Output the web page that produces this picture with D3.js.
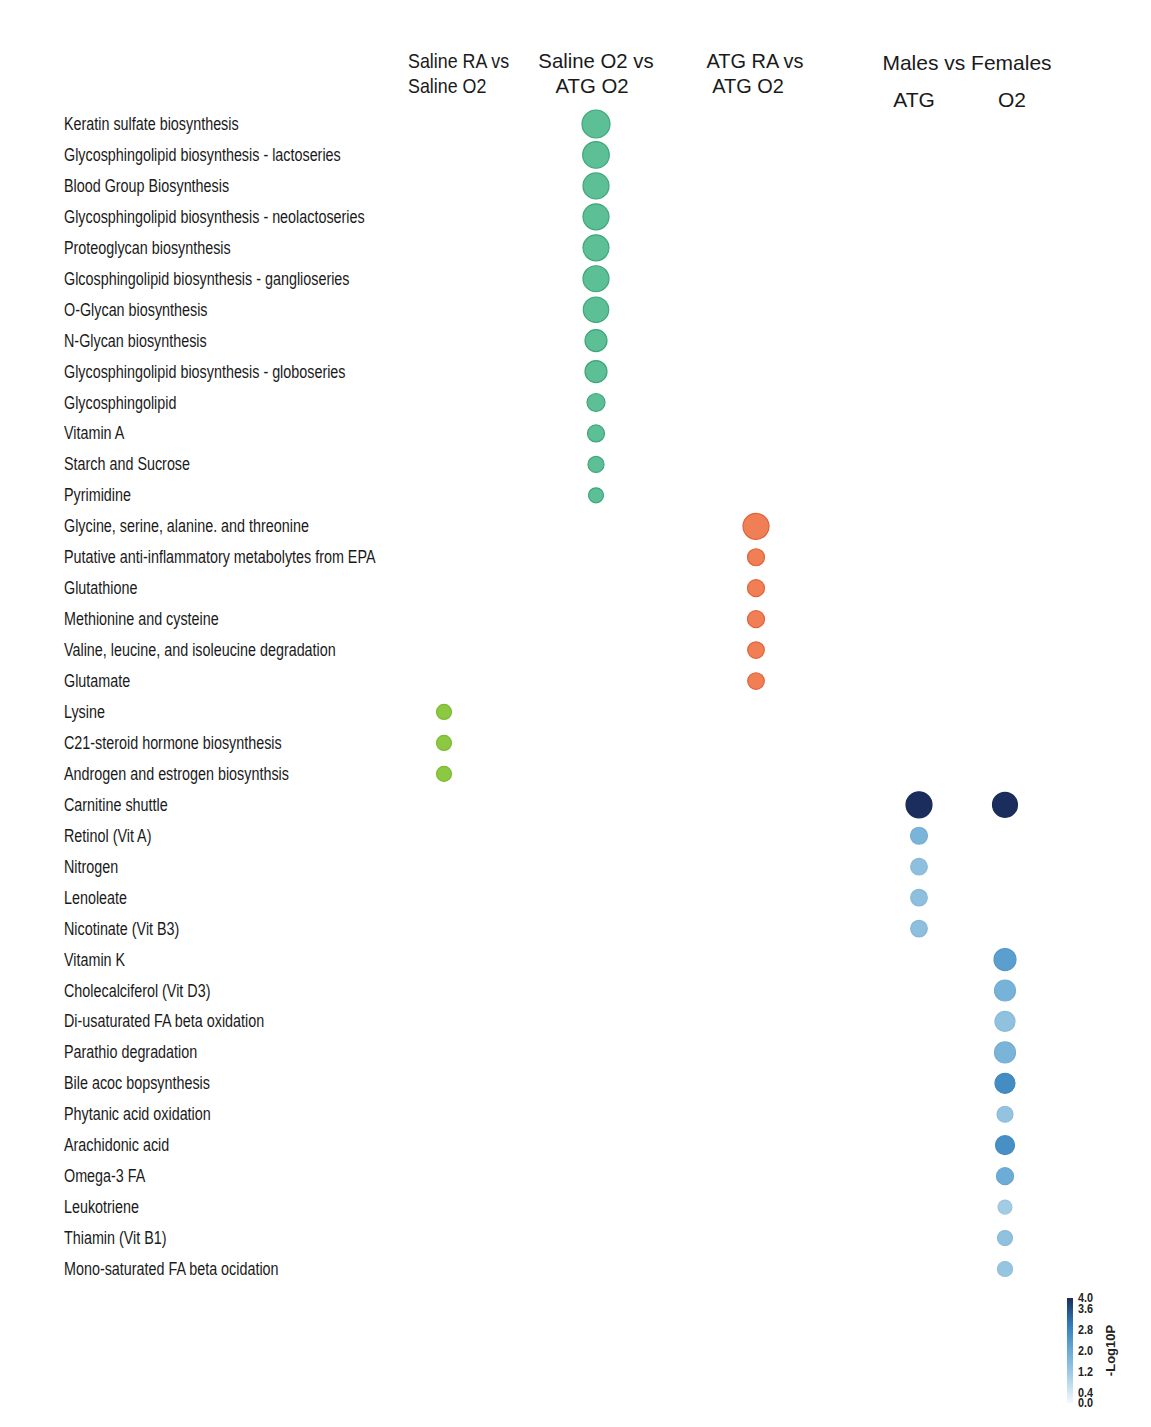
<!DOCTYPE html>
<html><head><meta charset="utf-8">
<script src="https://cdn.jsdelivr.net/npm/d3@7"></script>
<style>
html,body{margin:0;padding:0;background:#fff;}
</style></head>
<body><svg id="chart" width="1151" height="1427"></svg>
<script>
// ---------- DATA ----------
const pathways = [
  "Keratin sulfate biosynthesis",
  "Glycosphingolipid biosynthesis - lactoseries",
  "Blood Group Biosynthesis",
  "Glycosphingolipid biosynthesis - neolactoseries",
  "Proteoglycan biosynthesis",
  "Glcosphingolipid biosynthesis - ganglioseries",
  "O-Glycan biosynthesis",
  "N-Glycan biosynthesis",
  "Glycosphingolipid biosynthesis - globoseries",
  "Glycosphingolipid",
  "Vitamin A",
  "Starch and Sucrose",
  "Pyrimidine",
  "Glycine, serine, alanine. and threonine",
  "Putative anti-inflammatory metabolytes from EPA",
  "Glutathione",
  "Methionine and cysteine",
  "Valine, leucine, and isoleucine degradation",
  "Glutamate",
  "Lysine",
  "C21-steroid hormone biosynthesis",
  "Androgen and estrogen biosynthsis",
  "Carnitine shuttle",
  "Retinol (Vit A)",
  "Nitrogen",
  "Lenoleate",
  "Nicotinate (Vit B3)",
  "Vitamin K",
  "Cholecalciferol (Vit D3)",
  "Di-usaturated FA beta oxidation",
  "Parathio degradation",
  "Bile acoc bopsynthesis",
  "Phytanic acid oxidation",
  "Arachidonic acid",
  "Omega-3 FA",
  "Leukotriene",
  "Thiamin (Vit B1)",
  "Mono-saturated FA beta ocidation"
];

const columnKeys = ["salineRA_salineO2", "salineO2_atgO2", "atgRA_atgO2", "mf_ATG", "mf_O2"];
const headerLines = [
  ["Saline RA vs", "Saline O2"],
  ["Saline O2 vs", "ATG O2"],
  ["ATG RA vs", "ATG O2"]
];
const groupHeader = "Males vs Females";
const subHeaders = ["ATG", "O2"];

// Saline O2 vs ATG O2 (green-teal)
const salineO2AtgO2Paths = pathways.slice(0, 13);
const salineO2AtgO2Size  = [14, 13.3, 13, 13, 13, 13, 12.7, 11, 11, 9, 8.5, 8, 7.5];

// ATG RA vs ATG O2 (orange)
const atgRaAtgO2Paths = pathways.slice(13, 19);
const atgRaAtgO2Size  = [13, 8.5, 8.5, 8.5, 8.3, 8.3];

// Saline RA vs Saline O2 (lime)
const salineRaSalineO2Paths = pathways.slice(19, 22);
const salineRaSalineO2Size  = [7.5, 7.5, 7.5];

// Males vs Females, ATG (blue scale by -Log10P)
const mfAtgPaths  = ["Carnitine shuttle", "Retinol (Vit A)", "Nitrogen", "Lenoleate", "Nicotinate (Vit B3)"];
const mfAtgSize   = [13, 8.5, 8.3, 8.3, 8.3];
const mfAtgLogP   = [4.0, 1.75, 1.45, 1.45, 1.45];

// Males vs Females, O2
const mfO2Paths = ["Carnitine shuttle", "Vitamin K", "Cholecalciferol (Vit D3)", "Di-usaturated FA beta oxidation",
  "Parathio degradation", "Bile acoc bopsynthesis", "Phytanic acid oxidation", "Arachidonic acid",
  "Omega-3 FA", "Leukotriene", "Thiamin (Vit B1)", "Mono-saturated FA beta ocidation"];
const mfO2Size  = [12.5, 11, 10.5, 10, 10.5, 10, 8, 9.5, 8.5, 7, 7.5, 7.5];
const mfO2LogP  = [4.0, 2.25, 1.8, 1.4, 1.75, 2.65, 1.35, 2.6, 1.95, 1.1, 1.4, 1.3];

const legendTicks = [4.0, 3.6, 2.8, 2.0, 1.2, 0.4, 0.0];
const legendTitle = "-Log10P";

// ---------- CHART ----------
const svg = d3.select("#chart");
const font = "'Liberation Sans', Arial, sans-serif";
const narrow = 0.82;

const y = d3.scalePoint().domain(pathways).range([124, 1269]);
const x = d3.scaleOrdinal().domain(columnKeys).range([444, 596, 756, 919, 1005]);
const r = d3.scaleLinear().domain([0, 14]).range([0, 14]);
const blue = d3.scaleLinear().domain([0, 1, 2, 3, 4])
  .range(["#f4f9fd", "#a9d0e6", "#6aaad5", "#2f7dba", "#1b2d5c"])
  .interpolate(d3.interpolateRgb);

// Row labels (condensed)
svg.append("g").selectAll("text").data(pathways).join("text")
  .attr("transform", d => `translate(64,${y(d)}) scale(${narrow},1)`)
  .attr("dominant-baseline", "central")
  .attr("font-family", font).attr("font-size", 17.5)
  .attr("fill", "#1a1a1a")
  .text(d => d);

// Column headers (condensed)
const headerX = [408, 596, 755];
const headerX2 = [408, 592, 748];
const headerScale = [0.85, 0.97, 0.95];
headerLines.forEach((lines, i) => {
  lines.forEach((ln, j) => {
    const hx = j === 0 ? headerX[i] : headerX2[i];
    svg.append("text")
      .attr("transform", `translate(${hx},${60 + j * 25}) scale(${headerScale[i]},1)`)
      .attr("text-anchor", i === 0 ? "start" : "middle")
      .attr("dominant-baseline", "central")
      .attr("font-family", font).attr("font-size", 21)
      .attr("fill", "#1a1a1a").text(ln);
  });
});

svg.append("text").attr("x", 967).attr("y", 62).attr("text-anchor", "middle")
  .attr("dominant-baseline", "central").attr("font-family", font).attr("font-size", 21)
  .attr("fill", "#1a1a1a").text(groupHeader);
svg.append("text").attr("x", x("mf_ATG") - 5).attr("y", 99).attr("text-anchor", "middle")
  .attr("dominant-baseline", "central").attr("font-family", font).attr("font-size", 21)
  .attr("fill", "#1a1a1a").text(subHeaders[0]);
svg.append("text").attr("x", x("mf_O2") + 7).attr("y", 99).attr("text-anchor", "middle")
  .attr("dominant-baseline", "central").attr("font-family", font).attr("font-size", 21)
  .attr("fill", "#1a1a1a").text(subHeaders[1]);

// Dots
function drawDots(key, paths, sizes, fillFn, strokeFn) {
  svg.append("g").selectAll("circle").data(paths.map((p, i) => ({p, i})))
    .join("circle")
    .attr("cx", x(key))
    .attr("cy", d => y(d.p))
    .attr("r", d => r(sizes[d.i]))
    .attr("fill", d => fillFn(d.i))
    .attr("stroke", d => strokeFn(d.i))
    .attr("stroke-width", 1.2);
}
drawDots("salineO2_atgO2", salineO2AtgO2Paths, salineO2AtgO2Size, () => "#5cbf96", () => "#3ea67b");
drawDots("atgRA_atgO2", atgRaAtgO2Paths, atgRaAtgO2Size, () => "#f07f55", () => "#e2623b");
drawDots("salineRA_salineO2", salineRaSalineO2Paths, salineRaSalineO2Size, () => "#8cc841", () => "#7cbb33");
drawDots("mf_ATG", mfAtgPaths, mfAtgSize, i => blue(mfAtgLogP[i]), i => d3.color(blue(mfAtgLogP[i])).darker(0.1));
drawDots("mf_O2", mfO2Paths, mfO2Size, i => blue(mfO2LogP[i]), i => d3.color(blue(mfO2LogP[i])).darker(0.1));

// Colour legend
const ly = d3.scaleLinear().domain([0, 4]).range([1403, 1298]);
const defs = svg.append("defs");
const grad = defs.append("linearGradient").attr("id", "lg").attr("x1", 0).attr("x2", 0).attr("y1", 1).attr("y2", 0);
d3.range(0, 1.0001, 0.1).forEach(t => grad.append("stop").attr("offset", t).attr("stop-color", blue(t * 4)));
svg.append("rect").attr("x", 1067).attr("y", ly(4)).attr("width", 6).attr("height", ly(0) - ly(4))
  .attr("fill", "url(#lg)");
svg.append("g").selectAll("text").data(legendTicks).join("text")
  .attr("transform", d => `translate(1078,${ly(d)}) scale(0.9,1)`)
  .attr("dominant-baseline", "central")
  .attr("font-family", font).attr("font-weight", "bold").attr("font-size", 12)
  .attr("fill", "#222").text(d => d.toFixed(1));
svg.append("text").attr("transform", `translate(1110,${ly(2)}) rotate(-90)`)
  .attr("text-anchor", "middle").attr("dominant-baseline", "central")
  .attr("font-family", font).attr("font-weight", "bold").attr("font-size", 13)
  .attr("fill", "#222").text(legendTitle);
</script>
</body></html>
